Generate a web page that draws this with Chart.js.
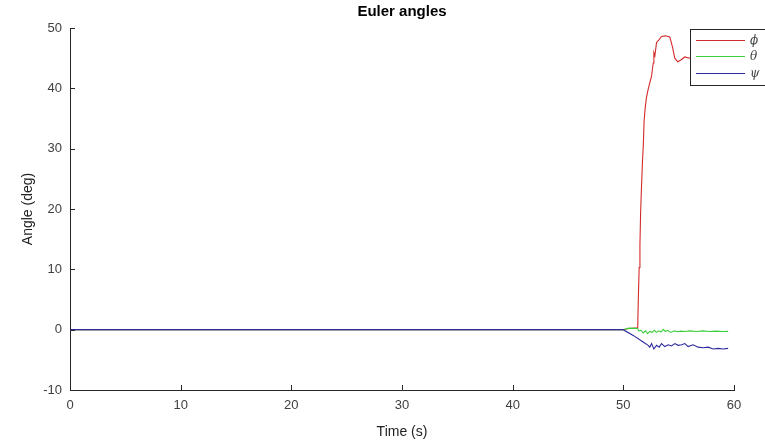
<!DOCTYPE html>
<html>
<head>
<meta charset="utf-8">
<script src="https://cdn.jsdelivr.net/npm/chart.js@4/dist/chart.umd.min.js"></script>
<style>
  html, body { margin: 0; padding: 0; background: #fff; }
  #wrap { width: 765px; height: 441px; }
</style>
</head>
<body>
<div id="wrap"><canvas id="eulerChart"></canvas></div>
<script>
// time (s) and angle (deg)
const phiT = [0, 49.98, 50.5, 51.3, 51.36, 51.43, 51.5, 51.56, 51.64, 51.72, 51.8, 51.88, 51.98, 52.1, 52.24, 52.4, 52.55, 52.7, 52.76, 52.85, 53.0, 53.2, 53.45, 53.8, 54.2, 54.45, 54.65, 54.92, 55.2, 55.55, 56.0, 57.0, 58.0, 59.47];
const phiV = [0, 0, 0.2, 0.3, 5.5, 10.3, 14.0, 19.3, 23.6, 27.5, 30.4, 34.7, 36.8, 38.6, 39.8, 41.0, 42.0, 44.2, 45.9, 45.4, 47.6, 48.0, 48.6, 48.7, 48.5, 46.8, 45.0, 44.4, 44.7, 45.2, 45.0, 45.1, 45.0, 45.0];

const thetaT = [0, 49.98, 50.5, 51.3, 51.4, 51.6, 51.8, 52.0, 52.2, 52.4, 52.6, 52.8, 53.0, 53.2, 53.4, 53.6, 53.8, 54.0, 54.3, 54.6, 54.9, 55.2, 55.6, 56.0, 56.6, 57.2, 57.8, 58.4, 59.0, 59.47];
const thetaV = [0, 0, 0.25, 0.2, -0.2, -0.1, -0.55, -0.2, -0.67, -0.3, -0.45, -0.1, -0.45, -0.2, -0.4, 0.05, -0.3, -0.1, -0.45, -0.2, -0.35, -0.25, -0.3, -0.2, -0.3, -0.2, -0.3, -0.25, -0.3, -0.28];

const psiT = [0, 49.98, 50.89, 51.79, 52.24, 52.39, 52.55, 52.76, 53.0, 53.24, 53.45, 53.75, 54.05, 54.35, 54.65, 54.95, 55.26, 55.56, 55.85, 56.3, 56.76, 57.21, 57.66, 58.11, 58.56, 59.02, 59.47];
const psiV = [0, 0, -0.95, -2.05, -2.6, -2.9, -2.3, -3.2, -2.6, -2.9, -2.3, -2.8, -2.5, -2.7, -2.3, -2.6, -2.5, -2.3, -2.8, -2.5, -2.9, -3.0, -2.9, -3.2, -3.1, -3.2, -3.1];

const seriesLabels = ['\u03d5', '\u03b8', '\u03c8'];
const seriesColors = ['#d42a2a', '#3ccf3c', '#2b2b9c'];

const xTicks = [0, 10, 20, 30, 40, 50, 60];
const yTicks = [-10, 0, 10, 20, 30, 40, 50];

const toPts = (ts, vs) => ts.map((t, i) => ({ x: t, y: vs[i] }));

// MATLAB-style inward tick marks
const inwardTicks = {
    id: 'inwardTicks',
    afterDraw(chart) {
        const { ctx, chartArea } = chart;
        const xs = chart.scales.x, ys = chart.scales.y;
        ctx.save();
        ctx.strokeStyle = '#262626';
        ctx.lineWidth = 1;
        ctx.beginPath();
        xTicks.forEach(v => {
            const px = Math.round(xs.getPixelForValue(v)) + 0.5;
            ctx.moveTo(px, chartArea.bottom);
            ctx.lineTo(px, chartArea.bottom - 5);
        });
        yTicks.forEach(v => {
            const py = Math.round(ys.getPixelForValue(v)) + 0.5;
            ctx.moveTo(chartArea.left, py);
            ctx.lineTo(chartArea.left + 5, py);
        });
        ctx.stroke();
        ctx.restore();
    }
};

// boxed legend in the upper right corner, like the original figure
const boxLegend = {
    id: 'boxLegend',
    afterDraw(chart) {
        const ctx = chart.ctx;
        const bx = 690, by = 29, bw = 90, bh = 56;
        ctx.save();
        ctx.fillStyle = '#fff';
        ctx.fillRect(bx, by, bw, bh);
        ctx.strokeStyle = '#262626';
        ctx.lineWidth = 1;
        ctx.strokeRect(bx + 0.5, by + 0.5, bw, bh);
        const rows = [40, 56, 73];
        rows.forEach((ry, i) => {
            ctx.strokeStyle = seriesColors[i];
            ctx.beginPath();
            ctx.moveTo(696, ry + 0.5);
            ctx.lineTo(745, ry + 0.5);
            ctx.stroke();
            ctx.fillStyle = '#444';
            ctx.font = 'italic 12px "DejaVu Serif", serif';
            ctx.textBaseline = 'middle';
            ctx.fillText(seriesLabels[i], 750, ry + 1);
        });
        ctx.restore();
    }
};

const ctx = document.getElementById('eulerChart').getContext('2d');
new Chart(ctx, {
    type: 'line',
    data: {
        datasets: [
            { label: seriesLabels[0], data: toPts(phiT, phiV), borderColor: seriesColors[0], order: 3 },
            { label: seriesLabels[1], data: toPts(thetaT, thetaV), borderColor: seriesColors[1], order: 2 },
            { label: seriesLabels[2], data: toPts(psiT, psiV), borderColor: seriesColors[2], order: 1 }
        ].map(ds => Object.assign(ds, { borderWidth: 1.1, pointRadius: 0, tension: 0, fill: false }))
    },
    options: {
        responsive: true,
        maintainAspectRatio: false,
        animation: false,
        layout: { padding: { left: 0, right: 31, top: 0, bottom: 0 } },
        plugins: {
            legend: { display: false },
            tooltip: { enabled: false },
            title: {
                display: true,
                fullSize: false,
                text: 'Euler angles',
                color: '#000',
                font: { family: 'Liberation Sans, Arial, sans-serif', size: 15, weight: 'bold' },
                padding: { top: 3, bottom: 7 }
            }
        },
        scales: {
            x: {
                type: 'linear',
                min: 0, max: 60,
                afterBuildTicks: s => { s.ticks = xTicks.map(v => ({ value: v })); },
                afterFit: s => { s.height = 51; },
                grid: { display: false, drawTicks: false },
                border: { display: true, color: '#262626', width: 1 },
                ticks: { color: '#404040', padding: 8, maxRotation: 0, font: { family: 'Liberation Sans, Arial, sans-serif', size: 13 } },
                title: { display: true, text: 'Time (s)', color: '#222', padding: { top: 0, bottom: 0 }, font: { family: 'Liberation Sans, Arial, sans-serif', size: 14 } }
            },
            y: {
                min: -10, max: 50,
                afterBuildTicks: s => { s.ticks = yTicks.map(v => ({ value: v })); },
                afterFit: s => { s.width = 70; },
                grid: { display: false, drawTicks: false },
                border: { display: true, color: '#262626', width: 1 },
                ticks: { color: '#404040', padding: 8, font: { family: 'Liberation Sans, Arial, sans-serif', size: 13 } },
                title: { display: true, text: 'Angle (deg)', color: '#222', padding: { top: 20, bottom: 0 }, font: { family: 'Liberation Sans, Arial, sans-serif', size: 14 } }
            }
        }
    },
    plugins: [inwardTicks, boxLegend]
});
</script>
</body>
</html>
